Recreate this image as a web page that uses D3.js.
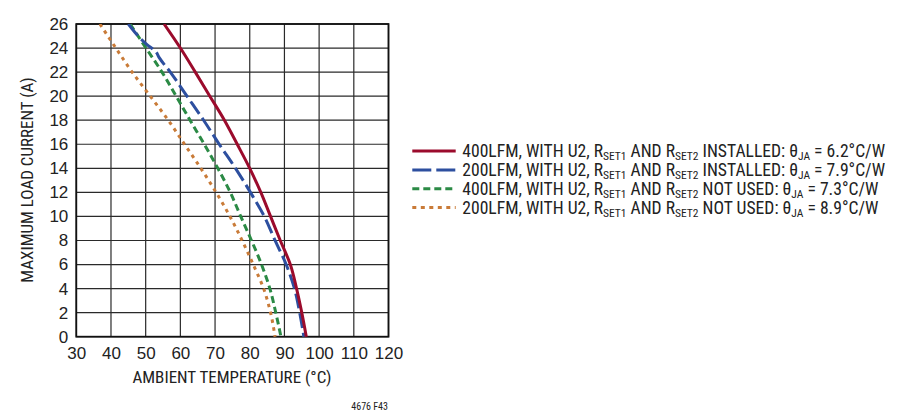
<!DOCTYPE html>
<html>
<head>
<meta charset="utf-8">
<script src="https://cdn.jsdelivr.net/npm/d3@7"></script>
<style>
  html, body { margin: 0; padding: 0; background: #fff; }
  svg { display: block; font-family: 'Liberation Sans Narrow', 'Arial Narrow', 'Roboto Condensed', sans-serif; }
</style>
</head>
<body>
<svg id="chart" width="900" height="415"></svg>
<script>
// ---- data ----
const xTicks = [30, 40, 50, 60, 70, 80, 90, 100, 110, 120];
const yTicks = [0, 2, 4, 6, 8, 10, 12, 14, 16, 18, 20, 22, 24, 26];

const currents = [26, 24, 22, 20, 18, 16, 14, 12, 10, 8, 6, 4, 2, 0];
const temp400Installed = [55.3, 60.0, 64.3, 68.5, 72.7, 76.4, 80.0, 83.2, 86.0, 88.8, 91.7, 93.5, 95.0, 96.3];
const currents200Installed = [26, 24.3, 23.7, 23.2, 22, 20, 18, 16, 14, 12, 10, 8, 6, 4, 2, 0];
const temp200Installed = [45.0, 50.3, 52.9, 53.9, 57.1, 61.9, 66.7, 71.2, 75.9, 80.2, 84.2, 87.3, 90.5, 92.9, 94.4, 95.6];
const temp400NotUsed = [45.5, 50.1, 54.7, 58.8, 62.8, 66.9, 70.8, 74.4, 77.4, 80.5, 83.4, 85.8, 87.5, 89.0];
const temp200NotUsed = [36.8, 41.4, 46.1, 51.3, 56.5, 61.2, 65.9, 70.3, 74.3, 77.8, 81.0, 84.0, 86.0, 87.3];

const seriesNames = [
  {lead: "400LFM, WITH U2, ", mid: " AND ", tail: " INSTALLED: ", val: " = 6.2°C/W"},
  {lead: "200LFM, WITH U2, ", mid: " AND ", tail: " INSTALLED: ", val: " = 7.9°C/W"},
  {lead: "400LFM, WITH U2, ", mid: " AND ", tail: " NOT USED: ", val: " = 7.3°C/W"},
  {lead: "200LFM, WITH U2, ", mid: " AND ", tail: " NOT USED: ", val: " = 8.9°C/W"}
];
const seriesColors = ["#9b0b2c", "#2d4f9f", "#2b8a45", "#c97b38"];
const seriesDash = [null, "15,5", "7,4", "3.5,4.5"];
const legendDash = [null, "19,5", "7,4", "4,4.5"];

// ---- layout ----
const svg = d3.select("#chart");
const X0 = 76.3, X1 = 388.5, Y0 = 336.7, Y1 = 24;
const x = d3.scaleLinear().domain([30, 120]).range([X0, X1]);
const y = d3.scaleLinear().domain([0, 26]).range([Y0, Y1]);

const series = [
  currents.map((c, i) => [temp400Installed[i], c]),
  currents200Installed.map((c, i) => [temp200Installed[i], c]),
  currents.map((c, i) => [temp400NotUsed[i], c]),
  currents.map((c, i) => [temp200NotUsed[i], c])
];

// grid
const grid = svg.append("g");
grid.selectAll("line.v").data(xTicks).join("line")
  .attr("x1", d => x(d)).attr("x2", d => x(d))
  .attr("y1", Y1).attr("y2", Y0)
  .attr("stroke", "#2a2a2a").attr("stroke-width", 1.2);
grid.selectAll("line.h").data(yTicks).join("line")
  .attr("y1", d => y(d)).attr("y2", d => y(d))
  .attr("x1", X0).attr("x2", X1)
  .attr("stroke", "#2a2a2a").attr("stroke-width", 1.2);
svg.append("rect").attr("x", X0).attr("y", Y1).attr("width", X1 - X0).attr("height", Y0 - Y1)
  .attr("fill", "none").attr("stroke", "#111").attr("stroke-width", 1.8);

// axes (labels only)
const xAxis = svg.append("g").attr("transform", `translate(0,${Y0})`)
  .call(d3.axisBottom(x).tickValues(xTicks).tickSize(0).tickPadding(10));
const yAxis = svg.append("g").attr("transform", `translate(${X0},0)`)
  .call(d3.axisLeft(y).tickValues(yTicks).tickSize(0).tickPadding(8));
[xAxis, yAxis].forEach(a => {
  a.select(".domain").remove();
  a.selectAll("text").attr("font-size", 17).attr("fill", "#222")
    .attr("font-family", "'Liberation Sans Narrow', 'Arial Narrow', sans-serif");
});

// curves
const clip = svg.append("clipPath").attr("id", "plotclip");
clip.append("rect").attr("x", X0).attr("y", Y1).attr("width", X1 - X0).attr("height", Y0 - Y1 + 2);
const line = d3.line().x(d => x(d[0])).y(d => y(d[1])).curve(d3.curveMonotoneY);
const curves = svg.append("g").attr("clip-path", "url(#plotclip)");
[3, 2, 1, 0].forEach(i => {
  curves.append("path").datum(series[i])
    .attr("d", line)
    .attr("fill", "none")
    .attr("stroke", seriesColors[i])
    .attr("stroke-width", 3)
    .attr("stroke-dasharray", seriesDash[i]);
});

// axis titles
svg.append("text").attr("x", 232).attr("y", 383).attr("text-anchor", "middle")
  .attr("font-size", 17).attr("fill", "#222").text("AMBIENT TEMPERATURE (°C)");
svg.append("text").attr("transform", "translate(33,180) rotate(-90)").attr("text-anchor", "middle")
  .attr("font-size", 17).attr("fill", "#222").text("MAXIMUM LOAD CURRENT (A)");
svg.append("text").attr("x", 388).attr("y", 410).attr("text-anchor", "end")
  .attr("font-size", 10).attr("fill", "#222").text("4676 F43");

// legend
const legendY = [151, 170, 188.7, 207.5];
const leg = svg.append("g");
seriesNames.forEach((s, i) => {
  const ly = legendY[i];
  leg.append("line").attr("x1", 412.3).attr("x2", 455.7).attr("y1", ly).attr("y2", ly)
    .attr("stroke", seriesColors[i]).attr("stroke-width", 3)
    .attr("stroke-dasharray", legendDash[i]);
  const t = leg.append("text").attr("x", 462.3).attr("y", ly + 6)
    .attr("font-size", 17.6).attr("fill", "#222");
  t.append("tspan").text(s.lead + "R");
  t.append("tspan").attr("font-size", 11.5).attr("dy", 3).text("SET1");
  t.append("tspan").attr("dy", -3).text(s.mid + "R");
  t.append("tspan").attr("font-size", 11.5).attr("dy", 3).text("SET2");
  t.append("tspan").attr("dy", -3).text(s.tail + "θ");
  t.append("tspan").attr("font-size", 11.5).attr("dy", 3).text("JA");
  t.append("tspan").attr("dy", -3).text(s.val);
});
</script>
</body>
</html>
